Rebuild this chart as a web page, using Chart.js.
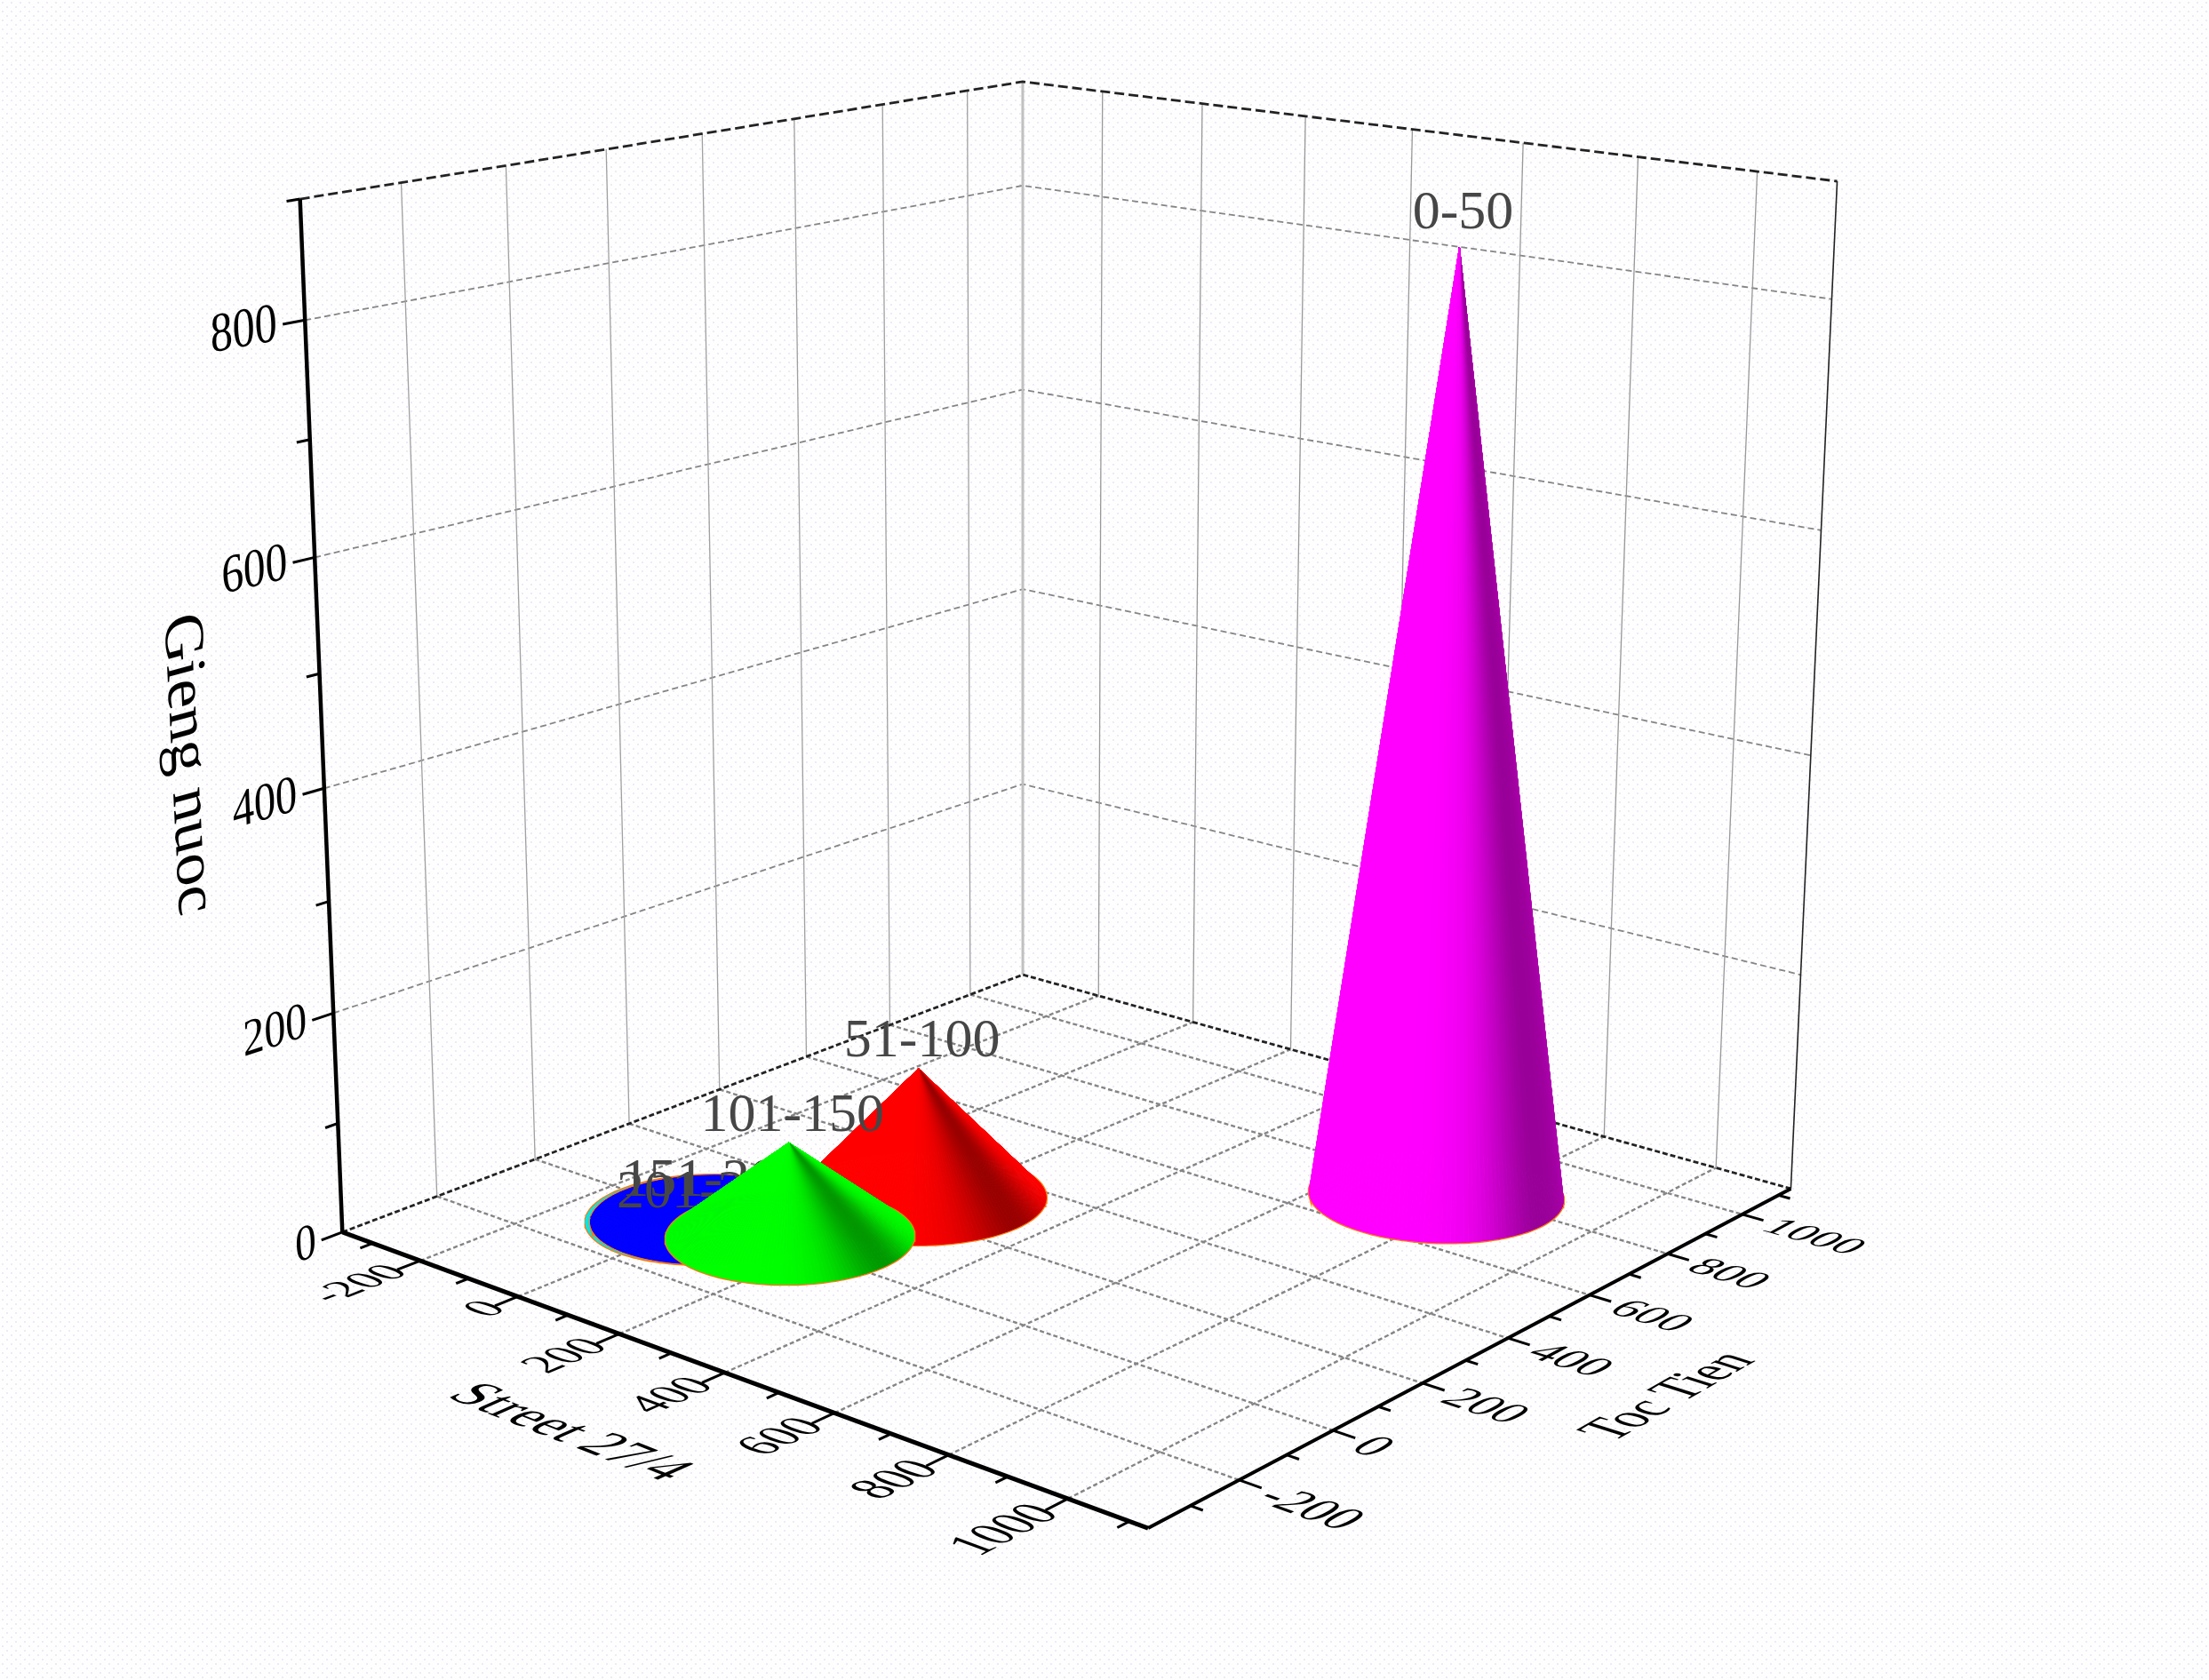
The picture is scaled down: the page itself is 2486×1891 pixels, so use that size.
<!DOCTYPE html>
<html>
<head>
<meta charset="utf-8">
<style>html,body{margin:0;padding:0;background:#fff}canvas{display:block}</style>
<script src="https://cdn.jsdelivr.net/npm/chart.js@4"></script>
</head>
<body>
<canvas id="myChart" width="2486" height="1891"></canvas>
<script>
// values
var rangeLabels = ['0-50', '51-100', '101-150', '151-200', '201-250'];
var streetValues = [746, 174, 135, 0, -5];
var tocTienValues = [770, 264, 27, 0, -5];
var giengNuocValues = [846, 120, 86, 11, 1];

var xTicks = [-200, 0, 200, 400, 600, 800, 1000];
var xMinorTicks = [-300, -100, 100, 300, 500, 700, 900, 1100];
var yTicks = [-200, 0, 200, 400, 600, 800, 1000];
var yMinorTicks = [-300, -100, 100, 300, 500, 700, 900, 1100];
var zTicks = [0, 200, 400, 600, 800];
var zMinorTicks = [100, 300, 500, 700, 900];
var wallLevels = [200, 400, 600, 800];

var xMin = -365, xMax = 1130, yMin = -385, yMax = 1135, zMin = 0, zMax = 900;

// cone look
var coneColors = [[255, 0, 255], [255, 0, 0], [0, 255, 0], [0, 0, 255], [0, 230, 230]];
var coneRadii = [187, 187, 179, 173, 173];
var paintOrder = [4, 3, 1, 2, 0];
var coneSides = 180;
var serif = '"Liberation Serif"';

// camera: 3d box corners -> where they sit in the 2486x1891 picture
var boxCorners = [
    [0, 0, 0, 386, 1387], [1, 0, 0, 1292, 1720], [1, 1, 0, 2016, 1338], [0, 1, 0, 1150, 1097],
    [0, 0, 1, 337, 224], [0, 1, 1, 1152, 92], [1, 1, 1, 2067, 204]
];
var solveCamera = function(){
    var rows = [], rhs = [];
    boxCorners.forEach(function(c){
        var u = c[0], v = c[1], w = c[2], px = c[3] / 1000, py = c[4] / 1000;
        rows.push([u, v, w, 1, 0, 0, 0, 0, -px * u, -px * v, -px * w]); rhs.push(px);
        rows.push([0, 0, 0, 0, u, v, w, 1, -py * u, -py * v, -py * w]); rhs.push(py);
    });
    var n = 11, m = [], i, j, k;
    for (i = 0; i < n; i++) {
        m[i] = [];
        for (j = 0; j <= n; j++) {
            var s = 0;
            for (k = 0; k < rows.length; k++) s += rows[k][i] * (j < n ? rows[k][j] : rhs[k]);
            m[i][j] = s;
        }
    }
    for (i = 0; i < n; i++) {
        var best = i;
        for (k = i + 1; k < n; k++) if (Math.abs(m[k][i]) > Math.abs(m[best][i])) best = k;
        var t = m[i]; m[i] = m[best]; m[best] = t;
        for (k = 0; k < n; k++) {
            if (k == i) continue;
            var f = m[k][i] / m[i][i];
            for (j = i; j <= n; j++) m[k][j] -= f * m[i][j];
        }
    }
    return m.map(function(r, idx){ return r[n] / r[idx]; });
};
var cam = solveCamera();
var project = function(x, y, z){
    var u = (x - xMin) / (xMax - xMin), v = (y - yMin) / (yMax - yMin), w = (z - zMin) / (zMax - zMin);
    var d = cam[8] * u + cam[9] * v + cam[10] * w + 1;
    return {
        x: 1000 * (cam[0] * u + cam[1] * v + cam[2] * w + cam[3]) / d,
        y: 1000 * (cam[4] * u + cam[5] * v + cam[6] * w + cam[7]) / d
    };
};

var paintList = [];
var addLine = function(pts, color, width, dash){
    paintList.push({
        data: pts.map(function(p){ return project(p[0], p[1], p[2]); }),
        showLine: true, pointRadius: 0, fill: false,
        borderColor: color, borderWidth: width, borderDash: dash || []
    });
};

// walls and floor
wallLevels.forEach(function(z){
    addLine([[xMin, yMin, z], [xMin, yMax, z], [xMax, yMax, z]], '#858585', 1.8, [7, 4]);
});
yTicks.forEach(function(y){
    addLine([[xMin, y, 0], [xMin, y, zMax]], '#a0a0a0', 1.3);
    addLine([[xMin, y, 0], [xMax, y, 0]], '#858585', 2.4, [5, 3]);
});
xTicks.forEach(function(x){
    addLine([[x, yMax, 0], [x, yMax, zMax]], '#989898', 1.3);
    addLine([[x, yMin, 0], [x, yMax, 0]], '#858585', 2.4, [5, 3]);
});
addLine([[xMin, yMax, 0], [xMin, yMax, zMax]], '#c0c0c0', 3);
addLine([[xMax, yMax, 0], [xMax, yMax, zMax]], '#222', 1.6);
addLine([[xMin, yMin, 0], [xMin, yMax, 0], [xMax, yMax, 0]], '#222', 2.8, [6, 3]);
addLine([[xMin, yMin, zMax], [xMin, yMax, zMax], [xMax, yMax, zMax]], '#222', 2.8, [11, 5]);

// axes and ticks
addLine([[xMin, yMin, 0], [xMin, yMin, zMax]], '#000', 4.5);
addLine([[xMin, yMin, 0], [xMax, yMin, 0]], '#000', 5);
addLine([[xMax, yMin, 0], [xMax, yMax, 0]], '#000', 4);
xTicks.forEach(function(x){ addLine([[x, yMin, 0], [x, yMin - 44, 0]], '#000', 3); });
xMinorTicks.forEach(function(x){ addLine([[x, yMin, 0], [x, yMin - 24, 0]], '#000', 3); });
yTicks.forEach(function(y){ addLine([[xMax, y, 0], [xMax + 36, y, 0]], '#000', 3); });
yMinorTicks.forEach(function(y){ addLine([[xMax, y, 0], [xMax + 20, y, 0]], '#000', 3); });
zTicks.forEach(function(z){ addLine([[xMin, yMin, z], [xMin, yMin - 40, z]], '#000', 3); });
zMinorTicks.forEach(function(z){ addLine([[xMin, yMin, z], [xMin, yMin - 24, z]], '#000', 3); });

// cones, back facets first
var addCone = function(i){
    var cx = streetValues[i], cy = tocTienValues[i], h = giengNuocValues[i], r = coneRadii[i];
    var center = project(cx, cy, 0), apex = project(cx, cy, h);
    var rim = [], k;
    for (k = 0; k < coneSides; k++) {
        var a = k / coneSides * Math.PI * 2;
        rim.push([cx + r * Math.cos(a), cy + r * Math.sin(a), 0]);
    }
    addLine(rim.concat([rim[0]]), '#ff7a10', 3.5);
    var depth = 0.4 * Math.min(1, h / r * 2.2);
    var rightSpread = h > r ? 60 : 24;
    var facets = [];
    for (k = 0; k < coneSides; k++) {
        var p = project(rim[k][0], rim[k][1], 0), q = project(rim[(k + 1) % coneSides][0], rim[(k + 1) % coneSides][1], 0);
        var mx = (p.x + q.x) / 2, my = (p.y + q.y) / 2;
        // 0.37 is how squashed the floor circles look
        var psi = Math.atan2((my - center.y) / 0.37, mx - center.x) * 180 / Math.PI;
        var spread = psi > 40 ? 28 : rightSpread;
        var shade = 1 - depth * Math.exp(-Math.pow((psi - 40) / spread, 2));
        var rgb = 'rgb(' + coneColors[i].map(function(c){ return Math.round(c * shade); }).join(',') + ')';
        facets.push({ my: my, data: [apex, p, q, apex], color: rgb });
    }
    facets.sort(function(a, b){ return a.my - b.my; });
    facets.forEach(function(f){
        paintList.push({
            data: f.data, showLine: true, pointRadius: 0, fill: 'shape',
            backgroundColor: f.color, borderColor: f.color, borderWidth: 1
        });
    });
};
paintOrder.forEach(function(i){
    addCone(i);
    if (i == 1) paintList[paintList.length - 1].drawRangeLabels = true; // labels sit over red, under green
});

var drawRangeLabels = function(chart){
    var ctx = chart.ctx;
    ctx.save();
    ctx.font = '62px ' + serif;
    ctx.fillStyle = '#464646';
    ctx.textAlign = 'center';
    ctx.textBaseline = 'alphabetic';
    rangeLabels.forEach(function(t, i){
        var p = project(streetValues[i], tocTienValues[i], giengNuocValues[i]);
        var lift = 12 + giengNuocValues[i] * 0.012;
        ctx.fillText(t, chart.scales.x.getPixelForValue(p.x) + 4, chart.scales.y.getPixelForValue(p.y) - lift);
    });
    ctx.restore();
};

// text lying on a plane of the box
var planeText = function(chart, t, at, read, up, readEm, upEm, align){
    var ctx = chart.ctx, F = 100;
    var px = function(v){
        var p = project(v[0], v[1], v[2]);
        return { x: chart.scales.x.getPixelForValue(p.x), y: chart.scales.y.getPixelForValue(p.y) };
    };
    var p0 = px(at);
    var pr = px([at[0] + read[0] * readEm, at[1] + read[1] * readEm, at[2] + read[2] * readEm]);
    var pu = px([at[0] + up[0] * upEm, at[1] + up[1] * upEm, at[2] + up[2] * upEm]);
    ctx.save();
    ctx.setTransform((pr.x - p0.x) / F, (pr.y - p0.y) / F, -(pu.x - p0.x) / F, -(pu.y - p0.y) / F, p0.x, p0.y);
    ctx.font = F + 'px ' + serif;
    ctx.fillStyle = '#000';
    ctx.textAlign = align;
    ctx.textBaseline = 'middle';
    ctx.fillText(t, 0, 0);
    ctx.restore();
};

var boxTextPlugin = {
    id: 'boxText',
    beforeDraw: function(chart){
        var ctx = chart.ctx;
        var tile = document.createElement('canvas');
        tile.width = 10; tile.height = 10;
        var tc = tile.getContext('2d');
        tc.fillStyle = '#fefefe'; tc.fillRect(0, 0, 10, 10);
        tc.fillStyle = 'rgba(225,215,238,0.55)';
        tc.fillRect(2, 2, 2, 2); tc.fillRect(7, 7, 2, 2);
        ctx.save();
        ctx.fillStyle = ctx.createPattern(tile, 'repeat');
        ctx.fillRect(0, 0, chart.width, chart.height);
        ctx.restore();
    },
    afterDatasetDraw: function(chart, args){
        if (chart.data.datasets[args.index].drawRangeLabels) drawRangeLabels(chart);
    },
    afterDraw: function(chart){
        xTicks.forEach(function(x){
            planeText(chart, String(x), [x, yMin - 40, 0], [0, 1, 0], [-1, 0, 0], 82, 88, 'right');
        });
        yTicks.forEach(function(y){
            planeText(chart, String(y), [xMax + 50, y - 10, 0], [1, 0, 0], [0, 1, 0], 75, 95, 'left');
        });
        zTicks.forEach(function(z){
            planeText(chart, String(z), [xMin, yMin - 50, z], [0, 1, 0], [0, 0, 1], 80, 46, 'right');
        });
        planeText(chart, 'Gieng nuoc', [xMin, -628, 453], [0, 0, -1], [0, 1, 0], 55, 100, 'center');
        planeText(chart, 'Street 27/4', [380, -658, 0], [1, 0, 0], [0, 1, 0], 92, 100, 'center');
        planeText(chart, 'Toc Tien', [1404, 379, 0], [0, 1, 0], [-1, 0, 0], 100, 90, 'center');
    }
};

var ctx = document.getElementById('myChart');
// chart.js paints the first dataset last, so flip the list
var mChart = new Chart(ctx, {
    type: 'scatter',
    data: { datasets: paintList.slice().reverse() },
    options: {
        responsive: false,
        animation: false,
        events: [],
        layout: { padding: 0 },
        plugins: { legend: { display: false }, tooltip: { enabled: false }, title: { display: false } },
        scales: {
            x: { type: 'linear', display: false, min: 0, max: 2486 },
            y: { type: 'linear', display: false, min: 0, max: 1891, reverse: true }
        }
    },
    plugins: [boxTextPlugin]
});
</script>
</body>
</html>
